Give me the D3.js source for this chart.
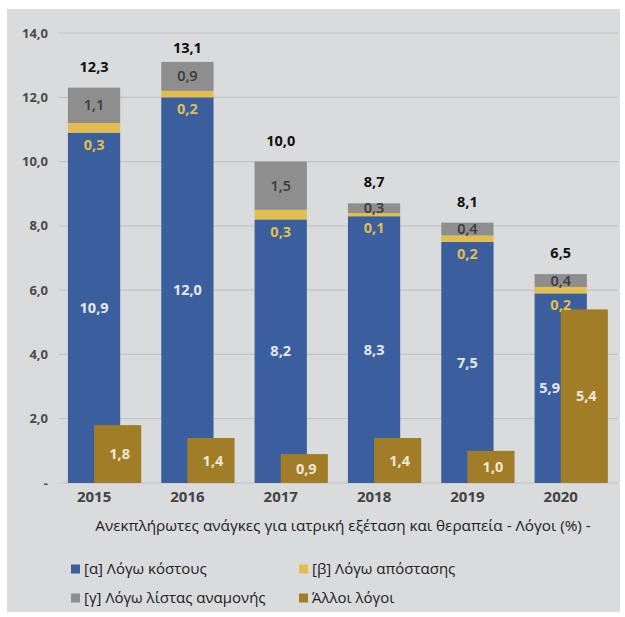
<!DOCTYPE html>
<html>
<head>
<meta charset="utf-8">
<script src="https://cdn.jsdelivr.net/npm/d3@7"></script>
<style>
  body { margin: 0; background: #fff; }
  svg text { font-family: "Open Sans", "Noto Sans", sans-serif; }
</style>
</head>
<body>
<svg id="chart" width="625" height="617"></svg>
<script>
// values (%)
const years = ['2015', '2016', '2017', '2018', '2019', '2020'];
const cost = [10.9, 12.0, 8.2, 8.3, 7.5, 5.9];       // [α]
const distance = [0.3, 0.2, 0.3, 0.1, 0.2, 0.2];     // [β]
const waiting = [1.1, 0.9, 1.5, 0.3, 0.4, 0.4];      // [γ]
const other = [1.8, 1.4, 0.9, 1.4, 1.0, 5.4];        // Άλλοι λόγοι
const totals = [12.3, 13.1, 10.0, 8.7, 8.1, 6.5];
const yTicks = [0, 2, 4, 6, 8, 10, 12, 14];
const axisTitle = 'Ανεκπλήρωτες ανάγκες για ιατρική εξέταση και θεραπεία - Λόγοι (%) -';
const legendLabels = ['[α] Λόγω κόστους', '[β] Λόγω απόστασης', '[γ] Λόγω λίστας αναμονής', 'Άλλοι λόγοι'];

const C = { cost: '#3a5e9e', distance: '#e3be4e', waiting: '#8e8e8e', other: '#a27d27' };
const keys = ['cost', 'distance', 'waiting'];
const fmt = v => v === 0 ? '-' : d3.format('.1f')(v).replace('.', ',');

const rows = years.map((yr, i) => ({ year: yr, cost: cost[i], distance: distance[i], waiting: waiting[i], other: other[i], total: totals[i] }));

const svg = d3.select('#chart');
svg.append('rect').attr('x', 7).attr('y', 9).attr('width', 613).attr('height', 603).attr('fill', '#dadbdd');

const x = d3.scaleBand().domain(years).range([47.4, 607.4]);
const y = d3.scaleLinear().domain([0, 14]).range([483, 33]);
const bw = x.bandwidth() * 0.56, ow = x.bandwidth() * 0.505;
const cx = d => x(d.year) + x.bandwidth() / 2;

// gridlines + y labels
const gy = svg.append('g');
gy.selectAll('line').data(yTicks).join('line')
  .attr('x1', 59).attr('x2', 618).attr('y1', d => y(d)).attr('y2', d => y(d))
  .attr('stroke', '#c3c4c6').attr('stroke-width', 1.2);
gy.selectAll('text').data(yTicks).join('text')
  .attr('x', 48).attr('y', d => y(d)).attr('dy', '0.35em').attr('text-anchor', 'end')
  .attr('font-size', 13).attr('font-weight', 700).attr('fill', '#4a4a4a').text(fmt);

// stacked bars
const stacked = d3.stack().keys(keys)(rows);
svg.append('g').selectAll('g').data(stacked).join('g')
  .attr('fill', s => C[s.key])
  .selectAll('rect').data(s => s).join('rect')
  .attr('x', d => cx(d.data) - bw / 2).attr('width', bw)
  .attr('y', d => y(d[1])).attr('height', d => y(d[0]) - y(d[1]));

// 'other' bars, offset to the right
svg.append('g').selectAll('rect').data(rows).join('rect')
  .attr('fill', C.other)
  .attr('x', d => cx(d)).attr('width', ow)
  .attr('y', d => y(d.other)).attr('height', d => y(0) - y(d.other));

// labels
const L = svg.append('g').attr('font-weight', 700).attr('font-size', 14.5).attr('text-anchor', 'middle');
// cost: centred in the visible part of the blue segment
L.selectAll('.lc').data(rows).join('text').attr('class', 'lc')
  .attr('x', d => d.other > d.cost / 2 - 0.5 ? (cx(d) - bw / 2 + cx(d)) / 2 + 2 : cx(d))
  .attr('y', d => y(d.cost / 2)).attr('dy', '0.35em').attr('fill', '#e6e9f0').text(d => fmt(d.cost));
L.selectAll('.ld').data(rows).join('text').attr('class', 'ld')
  .attr('x', d => cx(d)).attr('y', d => y(d.cost) + 12).attr('dy', '0.35em')
  .attr('fill', C.distance).text(d => fmt(d.distance));
L.selectAll('.lw').data(rows).join('text').attr('class', 'lw')
  .attr('x', d => cx(d)).attr('y', d => y(d.cost + d.distance + d.waiting / 2)).attr('dy', '0.35em')
  .attr('fill', '#3a3a3a').attr('font-weight', 600).text(d => fmt(d.waiting));
L.selectAll('.lt').data(rows).join('text').attr('class', 'lt')
  .attr('x', d => cx(d)).attr('y', d => Math.max(y(d.total) - 21, y(14) + 15)).attr('dy', '0.35em')
  .attr('fill', '#111').text(d => fmt(d.total));
L.selectAll('.lo').data(rows).join('text').attr('class', 'lo')
  .attr('x', d => cx(d) + ow / 2 + 2).attr('y', d => y(d.other / 2)).attr('dy', '0.35em')
  .attr('fill', '#efe8d8').text(d => fmt(d.other));

// x axis labels
svg.append('g').selectAll('text').data(years).join('text')
  .attr('x', d => x(d) + x.bandwidth() / 2).attr('y', 497).attr('dy', '0.35em')
  .attr('text-anchor', 'middle').attr('font-size', 15).attr('font-weight', 700).attr('fill', '#444')
  .text(d => d);

svg.append('text').attr('x', 343).attr('y', 526).attr('dy', '0.35em').attr('text-anchor', 'middle')
  .attr('font-size', 15.3).attr('fill', '#222').text(axisTitle);

// legend: 2 x 2
const lg = svg.append('g');
const lcol = ['cost', 'distance', 'waiting', 'other'];
lcol.forEach((k, i) => {
  const lx = i % 2 ? 299 : 71, ly = i < 2 ? 569 : 598;
  lg.append('rect').attr('x', lx).attr('y', ly - 4.5).attr('width', 9).attr('height', 9).attr('fill', C[k]);
  lg.append('text').attr('x', lx + 13).attr('y', ly).attr('dy', '0.35em')
    .attr('font-size', 15).attr('fill', '#222').text(legendLabels[i]);
});
</script>
</body>
</html>
